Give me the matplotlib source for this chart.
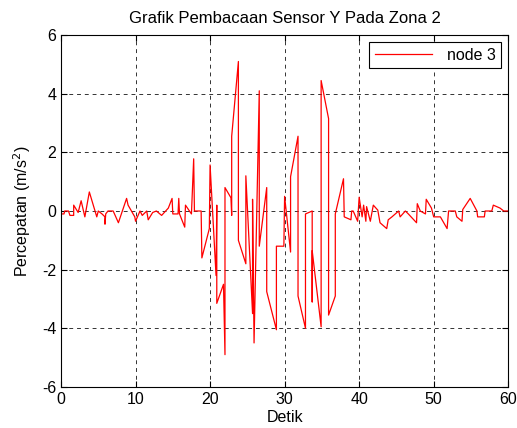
import matplotlib
matplotlib.use("Agg")
import matplotlib.pyplot as plt

plt.rcParams['font.family'] = ['Liberation Sans', 'DejaVu Sans']
plt.rcParams['axes.unicode_minus'] = False

# readings of node 3 (time in s, acceleration in m/s^2)
detik = [0.0, 0.4, 0.5, 1.0, 1.2, 1.7, 1.7, 2.3, 2.7, 3.2, 3.8, 4.8, 5.0, 5.5,
         5.9, 5.9, 6.0, 6.3, 7.0, 7.7, 8.8, 9.0, 9.9, 10.0, 10.6, 10.9, 11.5,
         11.7, 12.3, 12.8, 13.5, 14.4, 14.9, 15.0, 15.7, 15.8, 15.9, 16.6, 16.7,
         17.5, 17.8, 17.9, 18.8, 18.9, 19.3, 19.9, 20.0, 20.8, 20.9, 20.9,
         21.8, 22.0, 22.0, 22.8, 22.9, 22.9, 23.8, 23.8, 24.8, 24.8, 25.7,
         25.7, 25.9, 26.6, 26.6, 27.6, 27.6, 28.9, 28.9, 29.9, 30.0, 30.8,
         30.8, 31.8, 31.8, 32.8, 32.8, 33.7, 33.7, 33.7, 34.9, 34.9, 35.9,
         35.9, 36.8, 36.8, 37.9, 38.0, 38.9, 39.0, 39.2, 39.8, 40.0, 40.4,
         40.6, 40.9, 41.0, 41.5, 41.9, 42.5, 42.8, 43.7, 43.9, 44.4, 45.3,
         45.5, 46.2, 46.6, 47.7, 47.8, 48.2, 48.9, 49.0, 49.7, 50.0, 50.9,
         51.8, 52.0, 52.9, 53.1, 53.8, 53.9, 54.9, 55.8, 55.9, 56.8, 56.9,
         57.8, 58.0, 58.9, 59.4, 60.0]
node3 = [-0.1, -0.1, 0.0, 0.0, -0.15, -0.15, 0.2, -0.05, 0.35, -0.2, 0.65, -0.2,
         0.0, -0.1, -0.2, -0.45, -0.1, 0.0, 0.0, -0.4, 0.43, 0.2, -0.2, -0.35,
         0.0, -0.15, 0.0, -0.3, -0.05, 0.0, -0.15, 0.1, 0.43, -0.1, -0.1, 0.43,
         -0.1, -0.55, 0.2, -0.1, 1.78, 0.0, 0.0, -1.6, -1.2, -0.6, 1.57, -2.2,
         0.2, -3.15, -2.5, -4.9, 0.8, 0.45, -0.15, 2.55, 5.1, -1.0, -1.8, 1.2,
         -3.5, 0.4, -4.5, 4.1, -1.2, 0.8, -2.75, -4.05, -1.2, -1.2, 0.5, -1.4,
         1.17, 2.55, -2.9, -4.0, -0.1, 0.0, -3.1, -1.35, -3.95, 4.45, 3.15,
         -3.55, -2.9, -0.1, 1.1, -0.2, -0.3, 0.0, 0.0, -0.35, 0.47, -0.2, 0.2,
         -0.35, 0.15, -0.35, 0.2, 0.03, -0.4, -0.6, -0.3, -0.2, 0.0, -0.2, 0.0,
         -0.1, -0.4, 0.25, 0.0, -0.1, 0.4, 0.1, -0.2, -0.2, -0.6, 0.0, 0.0,
         -0.2, -0.35, 0.05, 0.43, 0.0, -0.2, -0.2, 0.0, 0.0, 0.2, 0.1, 0.0, 0.0]

fig = plt.figure(figsize=(5.17, 4.28), dpi=100)
ax = fig.add_axes([0.118, 0.096, 0.865, 0.822])

ax.plot(detik, node3, color='red', linewidth=0.9, label='node 3')

ax.set_xlim(0, 60)
ax.set_ylim(-6, 6)
ax.set_xticks(range(0, 61, 10))
ax.set_yticks(range(-6, 7, 2))
ax.grid(True, color='0.2', linestyle=(0, (4, 4)), linewidth=0.7)
ax.tick_params(direction='in', top=True, right=True, labelsize=11.5, length=4)
for s in ax.spines.values():
    s.set_linewidth(0.8)

ax.set_title('Grafik Pembacaan Sensor Y Pada Zona 2', fontsize=12, pad=9)
ax.set_xlabel('Detik', fontsize=11.5, labelpad=2)
ax.set_ylabel('Percepatan (m/s$^2$)', fontsize=11.5, labelpad=6)

leg = ax.legend(loc='upper right', fontsize=11.5, fancybox=False, framealpha=1,
                handlelength=3.6, handletextpad=0.9, borderaxespad=0.45,
                borderpad=0.35)
leg.get_frame().set_edgecolor('black')
leg.get_frame().set_linewidth(0.8)

fig.savefig('out.png', dpi=100)
